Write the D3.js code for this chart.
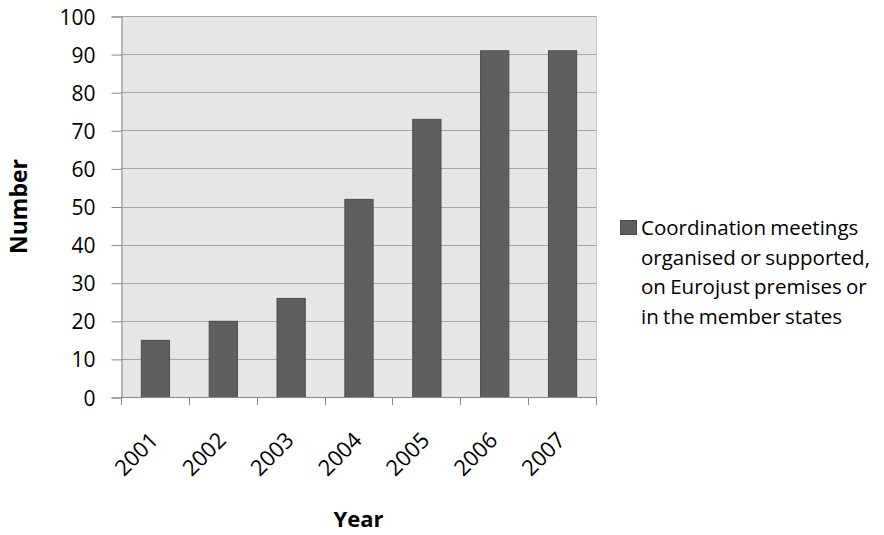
<!DOCTYPE html>
<html>
<head>
<meta charset="utf-8">
<script src="https://cdn.jsdelivr.net/npm/d3@7/dist/d3.min.js"></script>
<style>
  html, body { margin: 0; padding: 0; background: #fff; }
  svg { display: block; font-family: "Open Sans", Lato, sans-serif; }
</style>
</head>
<body>
<svg id="chart" width="884" height="535"></svg>
<script>
// Coordination meetings per year
const years = ["2001", "2002", "2003", "2004", "2005", "2006", "2007"];
const meetings = [15, 20, 26, 52, 73, 91, 91];
const yTicks = [0, 10, 20, 30, 40, 50, 60, 70, 80, 90, 100];
const legendLines = [
  "Coordination meetings",
  "organised or supported,",
  "on Eurojust premises or",
  "in the member states"
];

const svg = d3.select("#chart");
const plot = { left: 121, right: 596, top: 16, bottom: 397 };
const axisColor = "#888888";

const x = d3.scaleBand()
  .domain(years)
  .range([plot.left, plot.right])
  .paddingInner(0.584)
  .paddingOuter(0.292);

const y = d3.scaleLinear()
  .domain([0, 100])
  .range([plot.bottom, plot.top]);

// plot background
svg.append("rect")
  .attr("x", plot.left).attr("y", plot.top)
  .attr("width", plot.right - plot.left)
  .attr("height", plot.bottom - plot.top)
  .attr("fill", "#e6e6e6");

// right border of plot area
svg.append("line")
  .attr("x1", plot.right + 0.5).attr("x2", plot.right + 0.5)
  .attr("y1", plot.top).attr("y2", plot.bottom)
  .attr("stroke", "#cccccc");

// horizontal gridlines
svg.append("g")
  .selectAll("line")
  .data(yTicks.filter(d => d > 0))
  .join("line")
  .attr("x1", plot.left).attr("x2", plot.right)
  .attr("y1", d => Math.round(y(d)) + 0.5)
  .attr("y2", d => Math.round(y(d)) + 0.5)
  .attr("stroke", "#a6a6a6");

// bars
svg.append("g")
  .selectAll("rect")
  .data(years.map((yr, i) => ({ yr, v: meetings[i] })))
  .join("rect")
  .attr("x", d => x(d.yr) + 0.5)
  .attr("y", d => y(d.v) + 0.5)
  .attr("width", x.bandwidth())
  .attr("height", d => y(0) - y(d.v))
  .attr("fill", "#5f5f5f")
  .attr("stroke", "#4b4b4b")
  .attr("stroke-width", 1);

// y axis
const yAxis = d3.axisLeft(y)
  .tickValues(yTicks)
  .tickSize(10)
  .tickPadding(16)
  .tickFormat(d3.format("d"));
const gy = svg.append("g")
  .attr("transform", `translate(${plot.left + 0.5},0.5)`)
  .call(yAxis);
gy.select(".domain").attr("stroke", axisColor);
gy.selectAll(".tick line").attr("stroke", axisColor);
gy.selectAll(".tick text")
  .attr("font-size", 21)
  .attr("dy", "0.36em")
  .attr("fill", "#000")
  .attr("font-family", "'Open Sans', Lato, sans-serif");

// x axis: ticks at category boundaries
const boundaries = years.map(yr => x(yr) - x.step() * x.paddingInner() / 2);
boundaries.push(plot.right);
const gx = svg.append("g");
gx.append("line")
  .attr("x1", plot.left).attr("x2", plot.right)
  .attr("y1", plot.bottom + 0.5).attr("y2", plot.bottom + 0.5)
  .attr("stroke", axisColor);
gx.selectAll("line.tk")
  .data(boundaries)
  .join("line")
  .attr("class", "tk")
  .attr("x1", d => Math.round(d) + 0.5).attr("x2", d => Math.round(d) + 0.5)
  .attr("y1", plot.bottom).attr("y2", plot.bottom + 8)
  .attr("stroke", axisColor);

// rotated year labels
gx.selectAll("text")
  .data(years)
  .join("text")
  .attr("transform", d => `translate(${x(d) + x.bandwidth() / 2 - 1},${plot.bottom + 39}) rotate(-45)`)
  .attr("text-anchor", "end")
  .attr("dy", "0.36em")
  .attr("font-size", 22)
  .attr("fill", "#000")
  .text(d => d);

// axis titles
svg.append("text")
  .attr("x", (plot.left + plot.right) / 2)
  .attr("y", 527)
  .attr("text-anchor", "middle")
  .attr("font-size", 22)
  .attr("font-weight", "bold")
  .text("Year");

svg.append("text")
  .attr("transform", `translate(27,${(plot.top + plot.bottom) / 2}) rotate(-90)`)
  .attr("text-anchor", "middle")
  .attr("font-size", 23)
  .attr("font-weight", "bold")
  .text("Number");

// legend
const legend = svg.append("g").attr("transform", "translate(620,220)");
legend.append("rect")
  .attr("x", 0.5).attr("y", 0.5)
  .attr("width", 16).attr("height", 14)
  .attr("fill", "#5f5f5f")
  .attr("stroke", "#4b4b4b");
legend.append("text")
  .attr("font-size", 20.5)
  .attr("fill", "#000")
  .attr("word-spacing", -1)
  .selectAll("tspan")
  .data(legendLines)
  .join("tspan")
  .attr("x", 21)
  .attr("y", (d, i) => 15 + i * 29.5)
  .text(d => d);
</script>
</body>
</html>
